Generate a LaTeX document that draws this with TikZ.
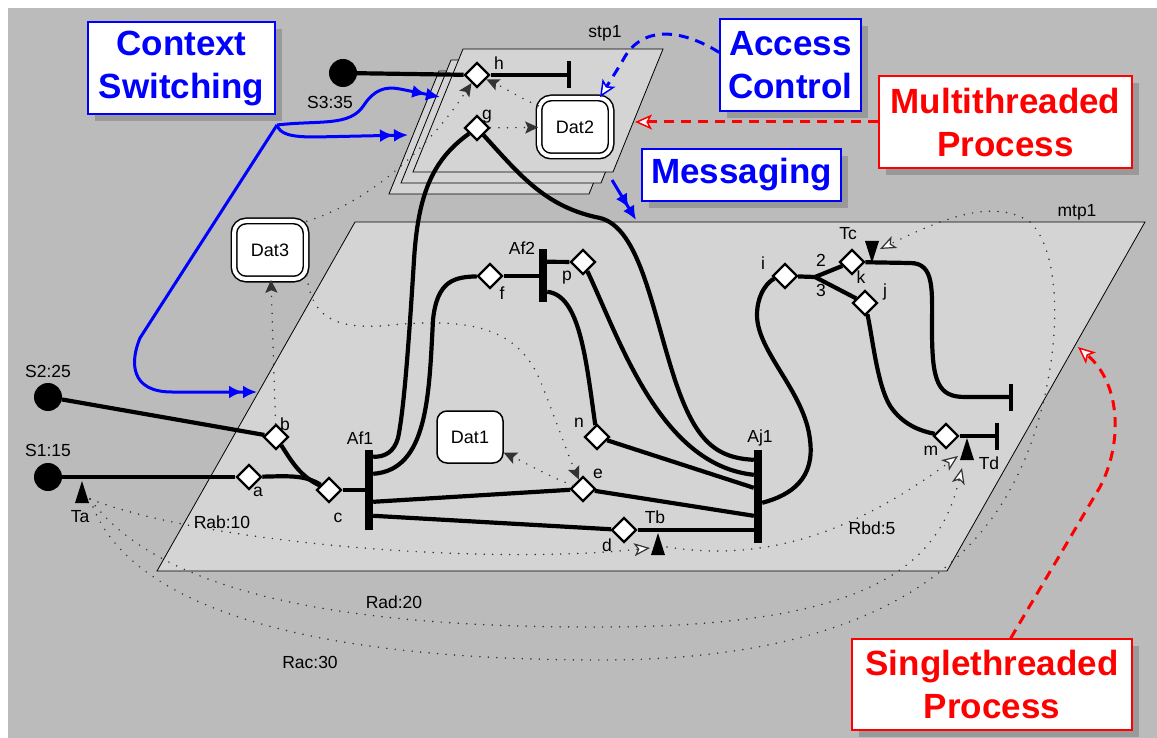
\documentclass[tikz,border=0pt]{standalone}
\usepackage{fontspec}
\setmainfont{Liberation Sans}
\usetikzlibrary{arrows.meta,shapes.geometric,shadows,calc}
\definecolor{bggray}{HTML}{BBBBBB}
\definecolor{planegray}{HTML}{D4D4D4}
\definecolor{shadegray}{HTML}{999999}
\definecolor{dotgray}{HTML}{333333}

\tikzset{
  lbl/.style={font=\fontsize{17.5}{20}\selectfont, inner sep=0pt},
  plane/.style={fill=planegray, draw=black, line width=0.8pt},
  wire/.style={line width=4.2pt},
  tend/.style={-{Bar[width=27pt,line width=4.2pt]}},
  port/.style={diamond, draw, line width=2.2pt, fill=white, minimum size=25pt, inner sep=0pt},
  bar/.style={fill=black, inner sep=0pt, minimum width=8pt},
  src/.style={circle, fill=black, minimum size=28pt, inner sep=0pt},
  datbox/.style={rounded corners=10pt, draw, line width=1.5pt, fill=white,
    font=\fontsize{18}{20}\selectfont, minimum width=66pt, minimum height=52pt},
  datbox2/.style={datbox, double, double distance=4pt, rounded corners=12pt,
    minimum width=72pt, minimum height=58pt},
  notebox/.style={draw=#1, line width=1.5pt, fill=white, text=#1, align=center,
    font=\fontsize{35}{43}\selectfont\bfseries, inner sep=0pt,
    drop shadow={shadow xshift=7pt, shadow yshift=-7pt, fill=shadegray, opacity=1}},
  dlink/.style={dotgray, line width=1.7pt, dash pattern=on 0pt off 8.5pt, line cap=round,
    -{Stealth[length=13pt,width=12pt,inset=2.5pt]}},
  rlink/.style={dlink, -{Stealth[length=16pt,width=13pt,inset=4pt,fill=white,line width=1.2pt]}},
  cswitch/.style={blue, line width=3pt,
    -{Latex[length=14pt,width=13pt]Latex[length=14pt,width=13pt]}},
  pointer/.style={#1, line width=3pt, dash pattern=on 10pt off 7pt,
    -{Stealth[length=17pt,width=15pt,inset=4pt,fill=white,line width=1.5pt]}},
}

\begin{document}
\begin{tikzpicture}[x=1pt, y=-1pt]
  \useasboundingbox (0,0) rectangle (1157,738);
  \fill[bggray] (8,8) rectangle (1157,738);

  % thread planes
  \draw[plane] (439,71) -- (639,71) -- (589,194) -- (389,194) -- cycle;
  \draw[plane] (451,60) -- (651,60) -- (601,183) -- (401,183) -- cycle;
  \draw[plane] (463,49) -- (663,49) -- (613,172) -- (413,172) -- cycle;
  \draw[plane] (355,222) -- (1145,222) -- (947,571) -- (157,571) -- cycle;
  \node[lbl] (stp1) at (605,33) {stp1};
  \node[lbl] (mtp1) at (1077,212) {mtp1};

  % sources, ports, bars
  \node[src] (S1) at (48,477) {};
  \node[src] (S2) at (48,397) {};
  \node[src] (S3) at (343,73) {};
  \node[port] (a) at (249,477) {};
  \node[port] (b) at (276,437) {};
  \node[port] (c) at (329,490) {};
  \node[port] (d) at (624,530) {};
  \node[port] (e) at (583,489) {};
  \node[port] (f) at (490,276) {};
  \node[port] (g) at (477,128) {};
  \node[port] (h) at (477,75) {};
  \node[port] (i) at (785,276) {};
  \node[port] (j) at (865,303) {};
  \node[port] (k) at (852,262) {};
  \node[port] (m) at (946,436) {};
  \node[port] (n) at (597,437) {};
  \node[port] (p) at (583,262) {};
  \node[bar, minimum height=80pt] (Af1) at (369,490) {};
  \node[bar, minimum height=53pt] (Af2) at (543,275.5) {};
  \node[bar, minimum height=93pt] (Aj1) at (758,496.5) {};
  \node[datbox2] (Dat2) at (575,127) {Dat2};
  \node[datbox2] (Dat3) at (270,250) {Dat3};
  \node[datbox] (Dat1) at (470,437) {Dat1};

  % timers
  \coordinate (Ta) at (82,481);
  \coordinate (Tb) at (658,533);
  \coordinate (Tc) at (872,263);
  \coordinate (Td) at (967,438);
  \fill (Ta) -- ++(7,22) -- ++(-14,0) -- cycle;
  \fill (Tb) -- ++(7,22) -- ++(-14,0) -- cycle;
  \fill (Tc) -- ++(7,-22) -- ++(-14,0) -- cycle;
  \fill (Td) -- ++(7,22) -- ++(-14,0) -- cycle;
  \coordinate (taR) at (90,499);
  \coordinate (tbL) at (650,548);
  \coordinate (tbR) at (667,547);
  \coordinate (tcR) at (880,249);
  \coordinate (tdL) at (958,456);
  \coordinate (tdB) at (962,468);

  % data access
  \draw[dlink] (g) -- (Dat2);
  \draw[dlink] (Dat2.150) .. controls (518,97) and (505,88) .. (h);
  \draw[dlink] (Dat3.38) .. controls (360,205) and (420,160) .. (h);
  \draw[dlink] (b) -- (Dat3);
  \draw[dlink] (Dat3.-35) .. controls (312,318) and (335,328) .. (380,326)
    .. controls (460,318) and (515,322) .. (540,380) .. controls (553,412) and (566,450) .. (e);
  \draw[dlink] (e) .. controls (550,477) and (530,465) .. (Dat1.-25);

  % timing
  \draw[rlink] (taR) .. controls (200,542) and (480,566) .. (tbL);
  \draw[rlink] (tbR) .. controls (780,565) and (870,520) .. (tdL);
  \draw[rlink] (taR) .. controls (150,580) and (300,628) .. (600,627)
    .. controls (880,627) and (940,560) .. (tdB);
  \draw[rlink] (taR) .. controls (125,605) and (300,660) .. (600,660)
    .. controls (850,660) and (960,580) .. (1010,490) .. controls (1060,400) and (1070,260) .. (1030,222)
    .. controls (990,195) and (930,225) .. (tcR);

  % ports on bars
  \path (Af1.north east) ++(0,7) coordinate (af1g) ++(0,17) coordinate (af1f)
    ++(0,28) coordinate (af1e) ++(0,14) coordinate (af1d);
  \path (Af2.north east) ++(0,13) coordinate (af2p) ++(0,30) coordinate (af2n);
  \path (Aj1.north west) ++(0,10) coordinate (aj1g) ++(0,15) coordinate (aj1p)
    ++(0,13) coordinate (aj1n) ++(0,28) coordinate (aj1e);
  \path (Aj1.north east) ++(0,53) coordinate (aj1i);
  \coordinate (hend) at (571,75);
  \coordinate (kend) at (1013,397);
  \coordinate (mend) at (999,436);
  \coordinate (ibr) at (815,277);

  % threads
  \draw[wire] (S3) -- (h);
  \draw[wire,tend] (h) -- (hend);
  \draw[wire] (S1) -- (a);
  \draw[wire] (S2) -- (b);
  \draw[wire] (a) .. controls (290,476) and (305,475) .. (c);
  \draw[wire] (b) .. controls (292,462) and (300,476) .. (c);
  \draw[wire] (c) -- (c -| Af1.west);
  \draw[wire] (g) .. controls (432,160) and (418,195) .. (414,260)
    .. controls (409,340) and (404,410) .. (398,438) .. controls (394,452) and (385,457) .. (af1g);
  \draw[wire] (f) .. controls (455,277) and (437,280) .. (433,320)
    .. controls (429,395) and (428,470) .. (af1f);
  \draw[wire] (af1e) -- (e);
  \draw[wire] (af1d) -- (d);
  \draw[wire] (f) -- (f -| Af2.west);
  \draw[wire] (af2p) -- (p);
  \draw[wire] (af2n) .. controls (580,295) and (586,360) .. (n);
  \draw[wire] (d) -- (d -| Aj1.west);
  \draw[wire] (e) -- (aj1e);
  \draw[wire] (n) -- (aj1n);
  \draw[wire] (p) .. controls (620,340) and (660,465) .. (aj1p);
  \draw[wire] (g) .. controls (520,175) and (545,207) .. (600,218)
    .. controls (640,228) and (652,310) .. (675,380) .. controls (695,440) and (715,458) .. (aj1g);
  \draw[wire] (aj1i) .. controls (792,495) and (815,478) .. (810,440)
    .. controls (805,392) and (757,352) .. (757,315) .. controls (757,292) and (770,280) .. (i);
  \draw[wire] (i) -- (ibr) -- (k);
  \draw[wire] (ibr) -- (j);
  \draw[wire,tend] (k) -- (910,263) .. controls (935,263) and (932,290) .. (932,330)
    .. controls (932,382) and (938,397) .. (965,397) -- (kend);
  \draw[wire] (j) .. controls (873,340) and (878,392) .. (893,410) .. controls (905,425) and (920,431) .. (m);
  \draw[wire,tend] (m) -- (mend);

  % labels
  \node[lbl] (lS3) at (330,102) {S3:35};
  \node[lbl] (lS2) at (48,371) {S2:25};
  \node[lbl] (lS1) at (48,450) {S1:15};
  \node[lbl] (lTa) at (80,517) {Ta};
  \node[lbl] (lTb) at (655,517) {Tb};
  \node[lbl] (lTc) at (848,234) {Tc};
  \node[lbl] (lTd) at (989,463) {Td};
  \node[lbl] (la) at (258,492) {a};
  \node[lbl] (lb) at (285,424) {b};
  \node[lbl] (lc) at (338,518) {c};
  \node[lbl] (ld) at (607,545) {d};
  \node[lbl] (le) at (598,474) {e};
  \node[lbl] (lf) at (502,293) {f};
  \node[lbl] (lg) at (487,117) {g};
  \node[lbl] (lh) at (499,63) {h};
  \node[lbl] (li) at (763,263) {i};
  \node[lbl] (lj) at (885,292) {j};
  \node[lbl] (lk) at (861,277) {k};
  \node[lbl] (lm) at (931,451) {m};
  \node[lbl] (ln) at (579,423) {n};
  \node[lbl] (lp) at (567,278) {p};
  \node[lbl] (lAf1) at (360,438) {Af1};
  \node[lbl] (lAf2) at (522,248) {Af2};
  \node[lbl] (lAj1) at (760,438) {Aj1};
  \node[lbl] (l2) at (821,260) {2};
  \node[lbl] (l3) at (821,290) {3};
  \node[lbl] (lRab) at (222,522) {Rab:10};
  \node[lbl] (lRad) at (394,602) {Rad:20};
  \node[lbl] (lRac) at (310,662) {Rac:30};
  \node[lbl] (lRbd) at (872,528) {Rbd:5};

  % annotations
  \node[notebox=blue, minimum width=187pt, minimum height=92pt] (ctx) at (181.5,68) {Context\\Switching};
  \node[notebox=blue, minimum width=141pt, minimum height=92pt] (acc) at (790.5,65) {Access\\Control};
  \node[notebox=red, minimum width=253pt, minimum height=92pt] (multi) at (1005.5,122) {Multithreaded\\Process};
  \node[notebox=blue, minimum width=199pt, minimum height=52pt] (msg) at (741.5,175) {Messaging};
  \node[notebox=red, minimum width=280pt, minimum height=91pt] (single) at (992,684.5) {Singlethreaded\\Process};

  \coordinate (csj) at (277,125);
  \coordinate (csA) at (440,97);
  \coordinate (csB) at (408,135);
  \coordinate (csC) at (257,392);
  \coordinate (msgA) at (612,180);
  \coordinate (msgB) at (636,220);
  \coordinate (mtA) at (635,122);
  \coordinate (stA) at (1078,347);
  \draw[cswitch] (csj) .. controls (320,120) and (350,127) .. (364,105)
    .. controls (374,90) and (385,86) .. (400,89) -- (csA);
  \draw[cswitch] (csj) .. controls (280,134) and (290,137) .. (315,137) -- (csB);
  \draw[cswitch] (csj) -- (140,338) .. controls (130,362) and (130,392) .. (172,392) -- (csC);
  \draw[cswitch] (msgA) -- (msgB);
  \draw[pointer=blue] (acc.170) .. controls (680,28) and (640,25) .. (622,62) -- (Dat2.50);
  \draw[pointer=red] (multi.west) -- (mtA);
  \draw[pointer=red] (single.68) -- (1100,487) .. controls (1122,445) and (1122,385) .. (stA);
\end{tikzpicture}
\end{document}
